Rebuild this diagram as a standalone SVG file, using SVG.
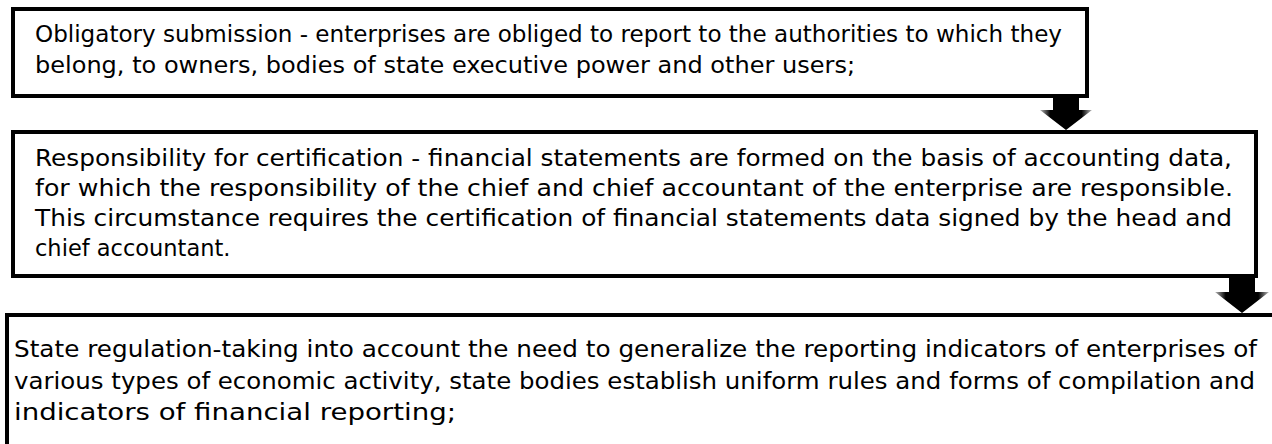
<svg xmlns="http://www.w3.org/2000/svg" width="1272" height="444" viewBox="0 0 1272 444">
<style>
.box{fill:#fff;stroke:#000;stroke-width:4}
.t{font-family:"DejaVu Sans","Liberation Sans",sans-serif;font-size:22.5px;fill:#000}
.arr{fill:url(#ag)}
</style>
<defs>
<linearGradient id="ag" x1="0" y1="0" x2="1" y2="0">
<stop offset="0" stop-color="#bbb"/>
<stop offset="0.2" stop-color="#000"/>
<stop offset="0.8" stop-color="#000"/>
<stop offset="1" stop-color="#bbb"/>
</linearGradient>
</defs>
<rect width="1272" height="444" fill="#fff"/>
<g id="connectors">
<path class="arr" d="M1053,97 H1079 V110 H1092 L1066,130 L1040,110 H1053 Z"/>
<path class="arr" d="M1229,277 H1255 V292 H1269 L1242,313 L1215,292 H1229 Z"/>
</g>
<g id="node1">
<rect class="box" x="13" y="9" width="1074" height="87"/>
<text class="t" x="35" y="42" textLength="1027" lengthAdjust="spacingAndGlyphs">Obligatory submission - enterprises are obliged to report to the authorities to which they</text>
<text class="t" x="35" y="73" textLength="820" lengthAdjust="spacingAndGlyphs">belong, to owners, bodies of state executive power and other users;</text>
</g>
<g id="node2">
<rect class="box" x="13" y="132" width="1243" height="144"/>
<text class="t" x="35" y="166" textLength="1197" lengthAdjust="spacingAndGlyphs">Responsibility for certification - financial statements are formed on the basis of accounting data,</text>
<text class="t" x="35" y="196" textLength="1198" lengthAdjust="spacingAndGlyphs">for which the responsibility of the chief and chief accountant of the enterprise are responsible.</text>
<text class="t" x="35" y="226" textLength="1197" lengthAdjust="spacingAndGlyphs">This circumstance requires the certification of financial statements data signed by the head and</text>
<text class="t" x="35" y="256">chief accountant.</text>
</g>
<g id="node3">
<rect class="box" x="7" y="315" width="1270" height="140"/>
<text class="t" x="14" y="357" textLength="1243" lengthAdjust="spacingAndGlyphs">State regulation-taking into account the need to generalize the reporting indicators of enterprises of</text>
<text class="t" x="14" y="389" textLength="1241" lengthAdjust="spacingAndGlyphs">various types of economic activity, state bodies establish uniform rules and forms of compilation and</text>
<text class="t" x="14" y="420" textLength="442" lengthAdjust="spacingAndGlyphs">indicators of financial reporting;</text>
</g>
</svg>
